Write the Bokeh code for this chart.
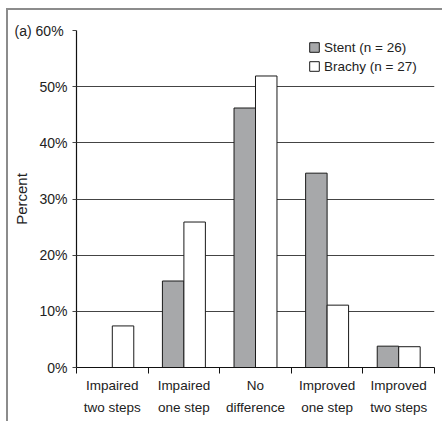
from bokeh.plotting import figure
from bokeh.models import (ColumnDataSource, FixedTicker, LinearAxis, Legend, LegendItem,
                          PrintfTickFormatter, Range1d, Grid)
from bokeh.embed import file_html
from bokeh.resources import INLINE

# Change categories and share of patients (%) in each group
categories = ["Impaired two steps", "Impaired one step", "No difference",
              "Improved one step", "Improved two steps"]
label_line1 = ["Impaired", "Impaired", "No", "Improved", "Improved"]
label_line2 = ["two steps", "one step", "difference", "one step", "two steps"]
stent_pct = [0.0, 15.4, 46.2, 34.6, 3.8]     # Stent (n=26)
brachy_pct = [7.4, 25.9, 51.9, 11.1, 3.7]    # Brachy (n=27)
y_ticks = [0, 10, 20, 30, 40, 50, 60]
panel_tag = "(a)"

FONT = "Liberation Sans"
BAR_W = 0.3

centers = [i + 0.5 for i in range(len(categories))]
src = ColumnDataSource(dict(
    x_stent=[c - BAR_W / 2 for c in centers],
    x_brachy=[c + BAR_W / 2 for c in centers],
    stent=stent_pct,
    brachy=brachy_pct,
))

p = figure(width=436, height=413, output_backend="svg", toolbar_location=None,
           x_range=Range1d(0, len(categories)), y_range=Range1d(0, 60),
           x_axis_type=None, y_axis_type=None,
           min_border_left=68, min_border_right=10, min_border_top=20, min_border_bottom=56,
           outline_line_color=None, background_fill_color="white",
           border_fill_color="white",
           margin=(8, 0, 0, 6),
           styles={"border-top": "2px solid #8c8c8c", "border-left": "2px solid #8c8c8c"})

r_stent = p.vbar(x="x_stent", top="stent", width=BAR_W, source=src,
                 fill_color="#a7a8aa", line_color="#1a1a1a", line_width=1)
r_brachy = p.vbar(x="x_brachy", top="brachy", width=BAR_W, source=src,
                  fill_color="white", line_color="#1a1a1a", line_width=1)

# y axis with percent labels; the panel tag sits beside the top label
yaxis = LinearAxis(ticker=FixedTicker(ticks=y_ticks),
                   formatter=PrintfTickFormatter(format="%d%%"),
                   major_label_overrides={y_ticks[-1]: f"{panel_tag}  {y_ticks[-1]}%"},
                   axis_label="Percent", axis_label_text_font=FONT,
                   axis_label_text_font_size="15px", axis_label_text_font_style="normal",
                   axis_label_text_color="#222222",
                   axis_label_standoff=-18,
                   major_label_text_font=FONT, major_label_text_font_size="14px",
                   major_label_text_color="#222222",
                   major_tick_out=4, major_tick_in=0, minor_tick_out=0, minor_tick_in=0,
                   major_tick_line_color="#444444", major_tick_line_width=1.2,
                   axis_line_color="#111111", axis_line_width=1.2,
                   major_label_standoff=5)
p.add_layout(yaxis, "left")

# horizontal rules at each 10%
grid = Grid(dimension=1, ticker=FixedTicker(ticks=y_ticks),
            grid_line_color="#444444", grid_line_width=1.2)
p.add_layout(grid)

# x axis: ticks at category boundaries, two-line labels under each category
boundaries = list(range(len(categories) + 1))
xaxis1 = LinearAxis(ticker=FixedTicker(ticks=centers, minor_ticks=boundaries),
                    major_label_overrides={c: t for c, t in zip(centers, label_line1)},
                    major_label_text_font=FONT, major_label_text_font_size="13.5px",
                    major_label_text_color="#222222",
                    major_tick_out=0, major_tick_in=0, minor_tick_out=6, minor_tick_in=0,
                    minor_tick_line_color="#111111",
                    axis_line_color="#111111", axis_line_width=1.2,
                    major_label_standoff=4)
xaxis2 = LinearAxis(ticker=FixedTicker(ticks=centers),
                    major_label_overrides={c: t for c, t in zip(centers, label_line2)},
                    major_label_text_font=FONT, major_label_text_font_size="13.5px",
                    major_label_text_color="#222222",
                    major_tick_out=0, major_tick_in=0, minor_tick_out=0, minor_tick_in=0,
                    axis_line_color=None, major_label_standoff=4)
p.add_layout(xaxis1, "below")
p.add_layout(xaxis2, "below")

legend = Legend(items=[LegendItem(label="Stent (n = 26)", renderers=[r_stent]),
                       LegendItem(label="Brachy (n = 27)", renderers=[r_brachy])],
                location=(232, 293), margin=0, padding=6,
                border_line_color=None, background_fill_alpha=0,
                glyph_width=12, glyph_height=12, label_height=16, spacing=3,
                label_standoff=4,
                label_text_font=FONT, label_text_font_size="13.5px",
                label_text_color="#222222")
p.add_layout(legend)

open("out.html", "w").write(file_html(p, INLINE))
